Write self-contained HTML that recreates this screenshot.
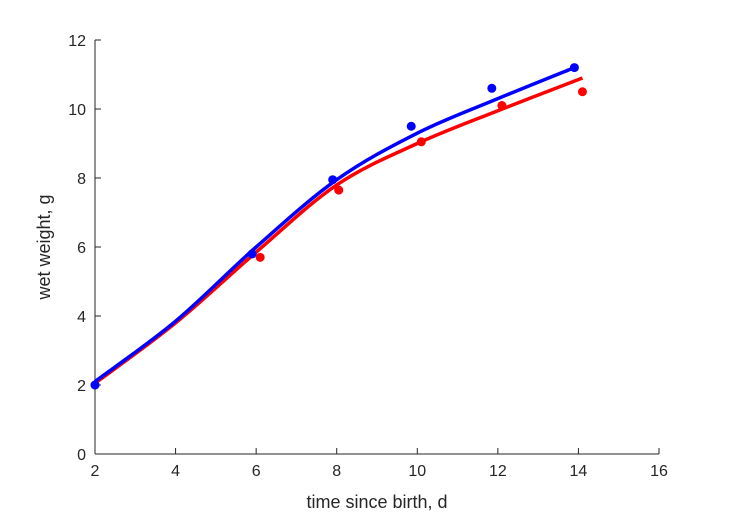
<!DOCTYPE html>
<html><head><meta charset="utf-8"><style>
body{margin:0;background:#fff;font-family:"Liberation Sans",Arial,sans-serif}
text{font-family:"Liberation Sans",Arial,sans-serif;fill:#262626}
</style></head><body>
<svg width="729" height="521" xmlns="http://www.w3.org/2000/svg">
<rect width="729" height="521" fill="#fff"/>
<g id="axes"></g>
<g id="marks"></g>
</svg>
<script>
const xTicks=[2,4,6,8,10,12,14,16];
const yTicks=[0,2,4,6,8,10,12];
const blueCurveX=[2,4,6,8,10,12,13.9];
const blueCurveY=[2.1,3.85,6.0,7.95,9.3,10.3,11.2];
const redCurveX=[2,4,6,8,10,12,14.1];
const redCurveY=[2.05,3.8,5.85,7.8,9.0,9.95,10.9];
const bluePtsX=[2,5.9,7.9,9.85,11.85,13.9];
const bluePtsY=[2.0,5.8,7.95,9.5,10.6,11.2];
const redPtsX=[2,6.1,8.05,10.1,12.1,14.1];
const redPtsY=[2.0,5.7,7.65,9.05,10.1,10.5];
const X0=95,X1=659,Y0=454,Y1=40;
const sx=v=>X0+(v-2)/(16-2)*(X1-X0);
const sy=v=>Y0-(v-0)/12*(Y0-Y1);
const NS='http://www.w3.org/2000/svg';
function mk(tag,attrs,parent){const e=document.createElementNS(NS,tag);for(const k in attrs)e.setAttribute(k,attrs[k]);parent.appendChild(e);return e;}
const ax=document.getElementById('axes'),mg=document.getElementById('marks');
const xa=mk('line',{x1:X0,y1:Y0,x2:X1,y2:Y0,stroke:'#262626','stroke-width':1},ax);


const ya=mk('line',{x1:X0,y1:Y0,x2:X0,y2:Y1,stroke:'#262626','stroke-width':1},ax);


xTicks.forEach(t=>{const x=sx(t);
mk('line',{x1:x,y1:Y0,x2:x,y2:Y0-6,stroke:'#262626'},ax);
const tx=mk('text',{x:x,y:Y0+22,'text-anchor':'middle','font-size':16},ax);tx.textContent=t;

});
yTicks.forEach(t=>{const y=sy(t);
mk('line',{x1:X0,y1:y,x2:X0+6,y2:y,stroke:'#262626'},ax);
const tx=mk('text',{x:X0-9,y:y+6,'text-anchor':'end','font-size':16},ax);tx.textContent=t;

});
const xl=mk('text',{x:(X0+X1)/2,y:508,'text-anchor':'middle','font-size':18},ax);xl.textContent='time since birth, d';


const yl=mk('text',{x:0,y:0,'text-anchor':'middle','font-size':18,transform:`translate(50,${(Y0+Y1)/2}) rotate(-90)`},ax);yl.textContent='wet weight, g';


function smooth(xs,ys){const p=xs.map((x,i)=>[sx(x),sy(ys[i])]);let d=`M${p[0][0]},${p[0][1]}`;
for(let i=0;i<p.length-1;i++){const p0=p[i-1]||p[i],p1=p[i],p2=p[i+1],p3=p[i+2]||p2;
d+=` C${p1[0]+(p2[0]-p0[0])/6},${p1[1]+(p2[1]-p0[1])/6} ${p2[0]-(p3[0]-p1[0])/6},${p2[1]-(p3[1]-p1[1])/6} ${p2[0]},${p2[1]}`;}return d;}
const rc=mk('path',{d:smooth(redCurveX,redCurveY),fill:'none',stroke:'#ff0000','stroke-width':3.5},mg);


const bc=mk('path',{d:smooth(blueCurveX,blueCurveY),fill:'none',stroke:'#0000ff','stroke-width':3.5},mg);


redPtsX.forEach((x,i)=>{const c=mk('circle',{cx:sx(x),cy:sy(redPtsY[i]),r:4.5,fill:'#ff0000'},mg);

});
bluePtsX.forEach((x,i)=>{const c=mk('circle',{cx:sx(x),cy:sy(bluePtsY[i]),r:4.5,fill:'#0000ff'},mg);

});
</script>
</body></html>
